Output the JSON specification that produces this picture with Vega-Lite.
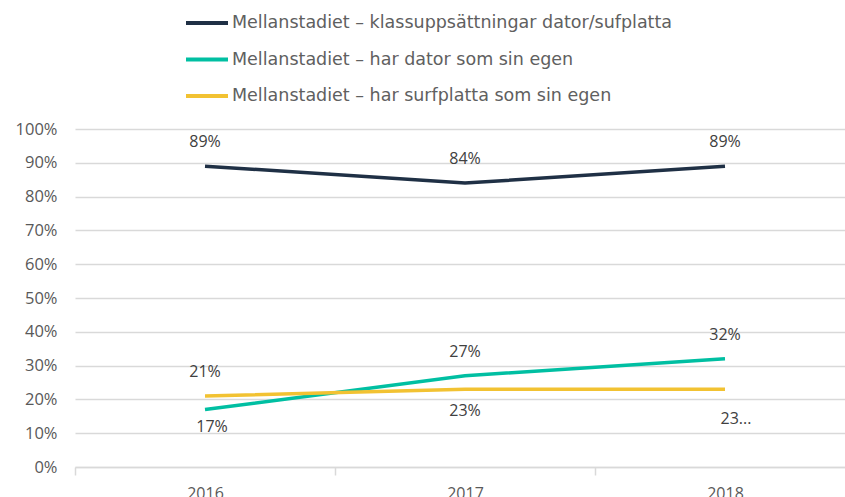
{
  "$schema": "https://vega.github.io/schema/vega-lite/v6.json",
  "autosize": {"type": "none"},
  "padding": {"left": 75, "top": 129, "right": 0, "bottom": 30},
  "width": 770,
  "height": 338,
  "config": {
    "view": {"stroke": null},
    "font": "Open Sans",
    "text": {"font": "Open Sans"}
  },
  "data": {
    "values": [
      {"year": "2016", "series": "Mellanstadiet – klassuppsättningar dator/sufplatta", "value": 89, "label": "89%"},
      {"year": "2017", "series": "Mellanstadiet – klassuppsättningar dator/sufplatta", "value": 84, "label": "84%"},
      {"year": "2018", "series": "Mellanstadiet – klassuppsättningar dator/sufplatta", "value": 89, "label": "89%"},
      {"year": "2016", "series": "Mellanstadiet – har dator som sin egen", "value": 17, "label": "17%"},
      {"year": "2017", "series": "Mellanstadiet – har dator som sin egen", "value": 27, "label": "27%"},
      {"year": "2018", "series": "Mellanstadiet – har dator som sin egen", "value": 32, "label": "32%"},
      {"year": "2016", "series": "Mellanstadiet – har surfplatta som sin egen", "value": 21, "label": "21%"},
      {"year": "2017", "series": "Mellanstadiet – har surfplatta som sin egen", "value": 23, "label": "23%"},
      {"year": "2018", "series": "Mellanstadiet – har surfplatta som sin egen", "value": 23, "label": "23..."}
    ]
  },
  "encoding": {
    "x": {
      "field": "year",
      "type": "ordinal",
      "scale": {"type": "band", "domain": ["2016", "2017", "2018"], "range": [0, 780], "paddingInner": 0, "paddingOuter": 0},
      "axis": {
        "title": null,
        "labelAngle": 0,
        "tickBand": "extent",
        "domainColor": "#d9d9d9",
        "domainWidth": 1.5,
        "tickColor": "#d9d9d9",
        "tickWidth": 1.5,
        "tickSize": 8,
        "labelFontSize": 16,
        "labelColor": "#595959",
        "labelPadding": 10,
        "labelFont": "Open Sans",
        "grid": false
      }
    },
    "y": {
      "field": "value",
      "type": "quantitative",
      "scale": {"domain": [0, 100]},
      "axis": {
        "title": null,
        "values": [0, 10, 20, 30, 40, 50, 60, 70, 80, 90, 100],
        "labelExpr": "datum.value + '%'",
        "domain": false,
        "ticks": false,
        "gridColor": "#d9d9d9",
        "gridWidth": 1.5,
        "labelFontSize": 16.5,
        "labelColor": "#595959",
        "labelPadding": 18,
        "labelFont": "Open Sans"
      }
    }
  },
  "layer": [
    {
      "mark": {"type": "line", "strokeWidth": 3.5},
      "encoding": {
        "color": {
          "field": "series",
          "type": "nominal",
          "scale": {
            "domain": ["Mellanstadiet – klassuppsättningar dator/sufplatta", "Mellanstadiet – har dator som sin egen", "Mellanstadiet – har surfplatta som sin egen"],
            "range": ["#1f3045", "#00bfa2", "#f2c232"]
          },
          "legend": {
            "title": null,
            "orient": "none",
            "direction": "vertical",
            "legendX": 109,
            "legendY": -129,
            "symbolType": "stroke",
            "symbolSize": 1764,
            "symbolStrokeWidth": 4,
            "labelFontSize": 17.5,
            "labelColor": "#606060",
            "labelFont": "DejaVu Sans",
            "labelLimit": 800,
            "labelOffset": 2,
            "rowPadding": 4.5
          }
        }
      }
    },
    {
      "transform": [{"filter": "!((datum.year == '2016' && datum.value == 17) || (datum.value == 23))"}],
      "mark": {"type": "text", "dy": -24, "fontSize": 16, "color": "#404040"},
      "encoding": {"text": {"field": "label"}}
    },
    {
      "transform": [{"filter": "datum.year == '2016' && datum.value == 17"}],
      "mark": {"type": "text", "dy": 17, "dx": 7, "fontSize": 16, "color": "#404040"},
      "encoding": {"text": {"field": "label"}}
    },
    {
      "transform": [{"filter": "datum.year == '2017' && datum.value == 23"}],
      "mark": {"type": "text", "dy": 22, "fontSize": 16, "color": "#404040"},
      "encoding": {"text": {"field": "label"}}
    },
    {
      "transform": [{"filter": "datum.year == '2018' && datum.value == 23"}],
      "mark": {"type": "text", "dy": 30, "dx": 11, "fontSize": 16, "color": "#404040"},
      "encoding": {"text": {"field": "label"}}
    }
  ]
}
